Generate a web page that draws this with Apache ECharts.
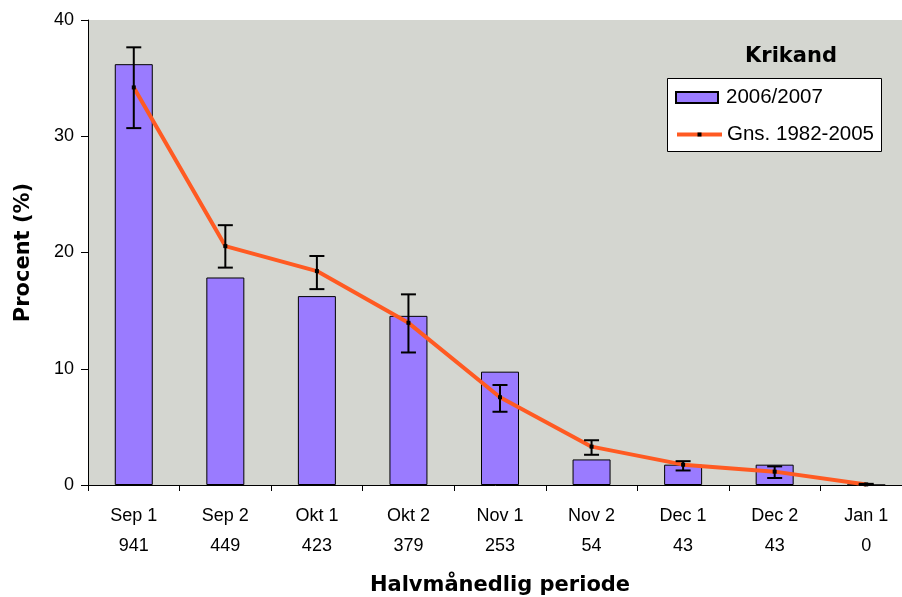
<!DOCTYPE html>
<html>
<head>
<meta charset="utf-8">
<script src="https://cdn.jsdelivr.net/npm/echarts@6/dist/echarts.min.js"></script>
<style>
html,body{margin:0;padding:0;background:#fff;}
#c{width:902px;height:597px;}
</style>
</head>
<body>
<div id="c"></div>
<script>
const categories = ['Sep 1','Sep 2','Okt 1','Okt 2','Nov 1','Nov 2','Dec 1','Dec 2','Jan 1'];
const counts = ['941','449','423','379','253','54','43','43','0'];
const season = [36.2, 17.85, 16.25, 14.55, 9.75, 2.2, 1.75, 1.75, 0];
const average = [34.2, 20.55, 18.4, 13.95, 7.55, 3.3, 1.75, 1.15, 0.05];
const errLow = [30.7, 18.7, 16.85, 11.4, 6.3, 2.6, 1.25, 0.6, 0.0];
const errHigh = [37.65, 22.35, 19.7, 16.4, 8.6, 3.85, 2.05, 1.6, 0.1];
const yTicks = [0, 10, 20, 30, 40];

const FONT = '"Liberation Sans", Arial, sans-serif';
const BOLD = '"DejaVu Sans", "Liberation Sans", sans-serif';
const chart = echarts.init(document.getElementById('c'), null, {renderer: 'canvas'});

const errData = categories.map((c, i) => [i, errLow[i], errHigh[i]]);

chart.setOption({
  backgroundColor: '#ffffff',
  animation: false,
  textStyle: {fontFamily: FONT},
  title: {
    text: 'Krikand',
    left: 786,
    top: 41,
    textAlign: 'center',
    textStyle: {fontFamily: BOLD, fontSize: 21, fontWeight: 'bold', color: '#000'}
  },
  graphic: [{
    type: 'rect',
    left: 667, top: 78, z: 1,
    shape: {width: 214, height: 73},
    style: {fill: '#ffffff', stroke: '#000', lineWidth: 1}
  }],
  legend: [{
    left: 675,
    top: 87,
    padding: 0,
    itemWidth: 42,
    itemHeight: 11,
    icon: 'rect',
    textStyle: {fontFamily: FONT, fontSize: 20.5, color: '#000', padding: [0, 0, 0, 3]},
    data: ['2006/2007'],
    z: 5
  }, {
    left: 675,
    top: 124,
    padding: 0,
    itemWidth: 45,
    itemHeight: 5,
    lineStyle: {width: 4, color: '#FF5A22'},
    textStyle: {fontFamily: FONT, fontSize: 20.5, color: '#000', padding: [0, 0, 0, 0]},
    data: ['Gns. 1982-2005'],
    z: 5
  }],
  grid: {
    left: 88, width: 824, top: 20, bottom: 112,
    outerBoundsMode: 'none',
    containLabel: false,
    show: true, backgroundColor: '#D4D6D0', borderWidth: 0
  },
  xAxis: {
    type: 'category',
    data: categories,
    boundaryGap: true,
    axisLine: {lineStyle: {color: '#000', width: 1}},
    axisTick: {show: true, length: 6, lineStyle: {color: '#000'}},
    axisLabel: {
      margin: 16,
      fontFamily: FONT, fontSize: 18, color: '#000', lineHeight: 30,
      formatter: (v, i) => v + '\n' + counts[i]
    },
    name: 'Halvmånedlig periode',
    nameLocation: 'middle',
    nameGap: 90,
    nameTextStyle: {fontFamily: BOLD, fontSize: 21, fontWeight: 'bold', color: '#000'}
  },
  yAxis: {
    type: 'value',
    min: yTicks[0], max: yTicks[yTicks.length - 1], interval: 10,
    splitLine: {show: false},
    axisLine: {show: true, lineStyle: {color: '#000', width: 1}},
    axisTick: {show: true, length: 7, lineStyle: {color: '#000'}},
    axisLabel: {margin: 14, fontFamily: FONT, fontSize: 18, color: '#000'},
    name: 'Procent (%)',
    nameLocation: 'middle',
    nameGap: 54,
    nameTextStyle: {fontFamily: BOLD, fontSize: 21, fontWeight: 'bold', color: '#000'}
  },
  series: [
    {
      name: '2006/2007',
      type: 'bar',
      data: season,
      barWidth: 38,
      itemStyle: {color: '#9A7BFF', borderColor: '#000', borderWidth: 1},
      z: 2
    },
    {
      name: 'Gns. 1982-2005',
      type: 'line',
      data: average,
      symbol: 'rect',
      symbolSize: 4,
      itemStyle: {color: '#000'},
      lineStyle: {color: '#FF5A22', width: 4},
      z: 3
    },
    {
      name: 'err',
      type: 'custom',
      data: errData,
      encode: {x: 0, y: [1, 2]},
      z: 4,
      renderItem: function (params, api) {
        const i = api.value(0);
        const lo = api.coord([i, api.value(1)]);
        const hi = api.coord([i, api.value(2)]);
        const hw = 7.5;
        const style = {stroke: '#000', lineWidth: 2};
        return {
          type: 'group',
          children: [
            {type: 'line', shape: {x1: lo[0], y1: lo[1], x2: hi[0], y2: hi[1]}, style},
            {type: 'line', shape: {x1: lo[0] - hw, y1: lo[1], x2: lo[0] + hw, y2: lo[1]}, style},
            {type: 'line', shape: {x1: hi[0] - hw, y1: hi[1], x2: hi[0] + hw, y2: hi[1]}, style}
          ]
        };
      }
    }
  ]
});
</script>
</body>
</html>
